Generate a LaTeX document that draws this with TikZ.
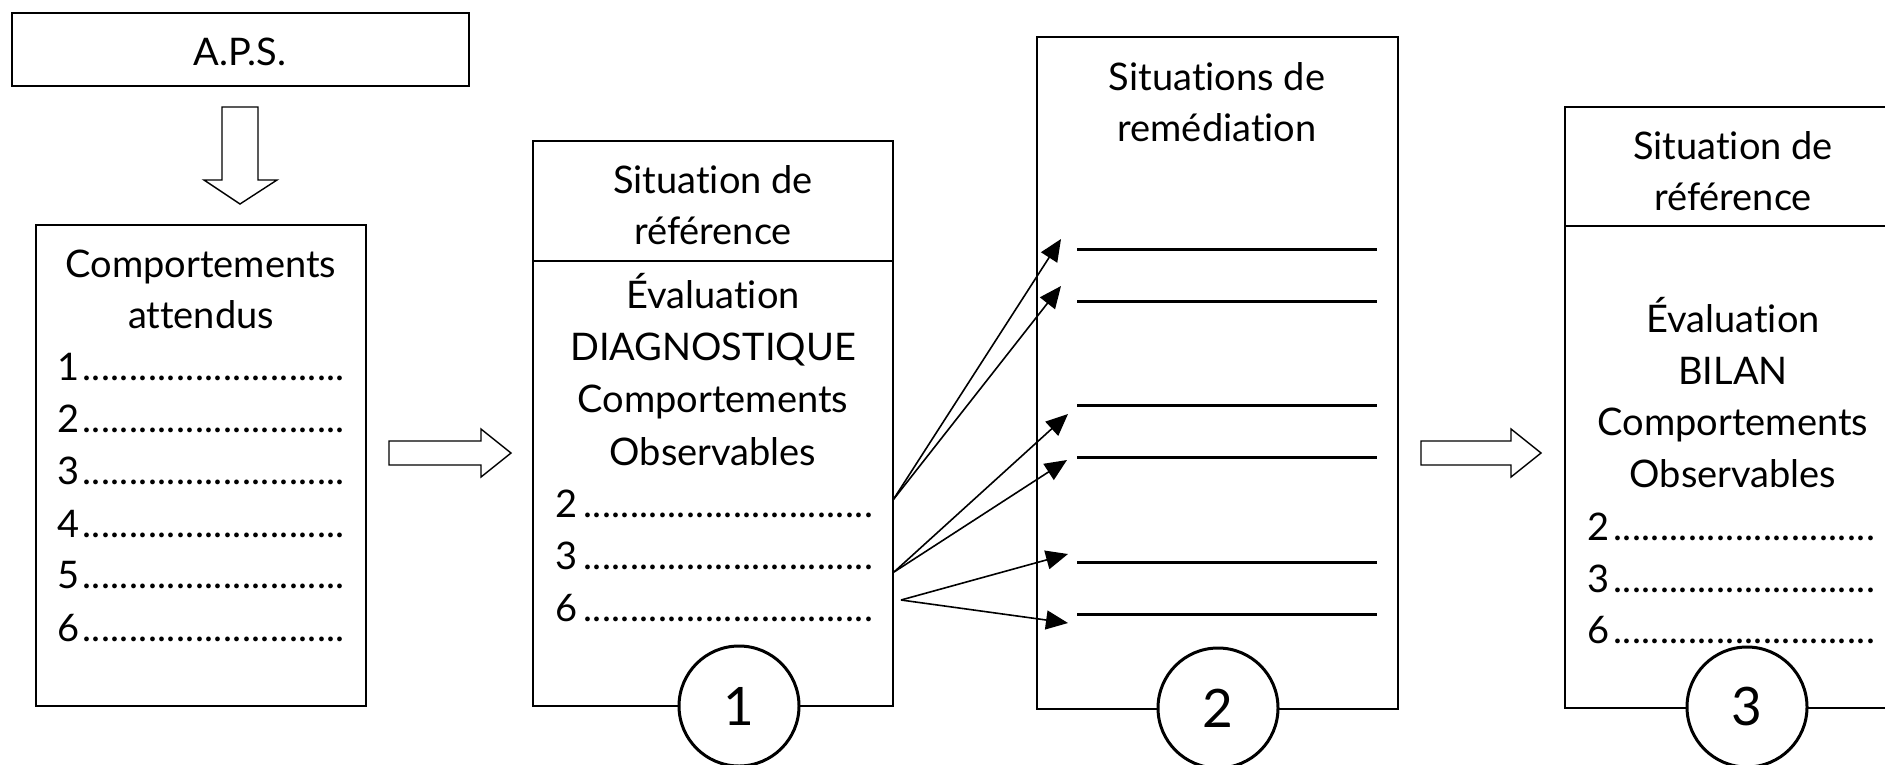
\documentclass[tikz,border=0pt]{standalone}
\usepackage{fontspec}
\setmainfont{Lato}[Ligatures={NoCommon,NoRare,NoContextual}]
\usetikzlibrary{arrows.meta}
\newcommand\mydots[1]{\hbox to #1pt{\xleaders\hbox to 9.35pt{\hss.\hss}\hfill}}
\begin{document}
\begin{tikzpicture}[x=1pt,y=-1pt,
  box/.style={draw, line width=1.5pt, rectangle, anchor=north west, inner sep=0pt, outer sep=0pt},
  txt/.style={anchor=base, inner sep=0pt, font=\fontsize{38}{45}\selectfont},
  num/.style={anchor=base west, inner sep=0pt, font=\fontsize{38}{45}\selectfont},
  circ/.style={circle, draw, fill=white, line width=3pt, minimum size=120pt, inner sep=0pt, font=\fontsize{53}{60}\selectfont},
  conn/.style={line width=1.6pt, -{Triangle[length=22pt,width=19pt]}},
  hollow/.style={draw, line width=1.4pt, line join=miter},
  rulel/.style={line width=3pt}]
\useasboundingbox (0,0) rectangle (1885,764);
\clip (0,0) rectangle (1885,764);
\fill[white] (0,0) rectangle (1885,764);

% boxes
\node[box, minimum width=457pt, minimum height=73pt] (aps) at (12,13) {};
\node[box, minimum width=330pt, minimum height=481pt] (lbox) at (36,225) {};
\node[box, minimum width=360pt, minimum height=565pt] (b1) at (533,141) {};
\node[box, minimum width=361pt, minimum height=672pt] (b2) at (1037,37) {};
\node[box, minimum width=340pt, minimum height=601pt] (b3) at (1565,107) {};
\draw[line width=1.5pt] (b1.west |- 0,261) -- (b1.east |- 0,261);
\draw[line width=1.5pt] (b3.west |- 0,226) -- (b3.east |- 0,226);

% hollow arrows
\draw[hollow] (222,107) -- (258,107) -- (258,180) -- (277,180) -- (240,204) -- (204,180) -- (222,180) -- cycle;
\draw[hollow] (389,441) -- (481,441) -- (481,429) -- (511,453) -- (481,477) -- (481,465) -- (389,465) -- cycle;
\draw[hollow] (1421,441) -- (1511,441) -- (1511,429) -- (1541,453) -- (1511,477) -- (1511,465) -- (1421,465) -- cycle;

% circles
\node[circ] (c1) at (739,706) {1};
\node[circ] (c2) at (1218,708) {2};
\node[circ] (c3) at (1747,707) {3};

% rules in box 2
\foreach \y/\n in {249/r1,301/r2,405/r3,457/r4,562/r5,614/r6}{
  \coordinate (\n a) at (1077,\y);
  \coordinate (\n b) at (1377,\y);
  \draw[rulel] (\n a) -- (\n b);
}

% texts
\node[txt] (tAPS) at (240,65) {A.P.S.};
\node[txt] (tL1) at (201,277) {Comportements};
\node[txt] (tL2) at (201,328) {attendus};
\foreach \y/\d in {380/1,432/2,484/3,537/4,588/5,641/6}{
  \node[num] (nL\d) at (57,\y) {\d};
  \node[num] (dL\d) at (82,\y) {\mydots{263}};
}

\node[txt] (tB1a) at (713,193) {Situation de};
\node[txt] (tB1b) at (713,244) {référence};
\node[txt] (tB1c) at (713,308) {Évaluation};
\node[txt] (tB1d) at (713,360) {DIAGNOSTIQUE};
\node[txt] (tB1e) at (713,412) {Comportements};
\node[txt] (tB1f) at (713,465) {Observables};
\foreach \y/\d in {517/2,569/3,621/6}{
  \node[num] (nB\d) at (555,\y) {\d};
  \node[num] (dB\d) at (583,\y) {\mydots{290}};
}

\node[txt] (tB2a) at (1217,90) {Situations de};
\node[txt] (tB2b) at (1217,141) {remédiation};

\node[txt] (tB3a) at (1733,159) {Situation de};
\node[txt] (tB3b) at (1733,210) {référence};
\node[txt] (tB3c) at (1733,332) {Évaluation};
\node[txt] (tB3d) at (1733,384) {BILAN};
\node[txt] (tB3e) at (1733,435) {Comportements};
\node[txt] (tB3f) at (1733,487) {Observables};
\foreach \y/\d in {540/2,592/3,643/6}{
  \node[num] (nC\d) at (1587,\y) {\d};
  \node[num] (dC\d) at (1613,\y) {\mydots{262}};
}

% connectors
\coordinate (s1) at (893,500);
\coordinate (s2) at (894,572);
\coordinate (s3) at (901,600);
\coordinate (t1) at (1061,239);
\coordinate (t2) at (1061,286);
\coordinate (t3) at (1068,414);
\coordinate (t4) at (1067,460);
\coordinate (t5) at (1068,554);
\coordinate (t6) at (1068,623);
\draw[conn] (s1) -- (t1);
\draw[conn] (s1) -- (t2);
\draw[conn] (s2) -- (t3);
\draw[conn] (s2) -- (t4);
\draw[conn] (s3) -- (t5);
\draw[conn] (s3) -- (t6);
\end{tikzpicture}
\end{document}
